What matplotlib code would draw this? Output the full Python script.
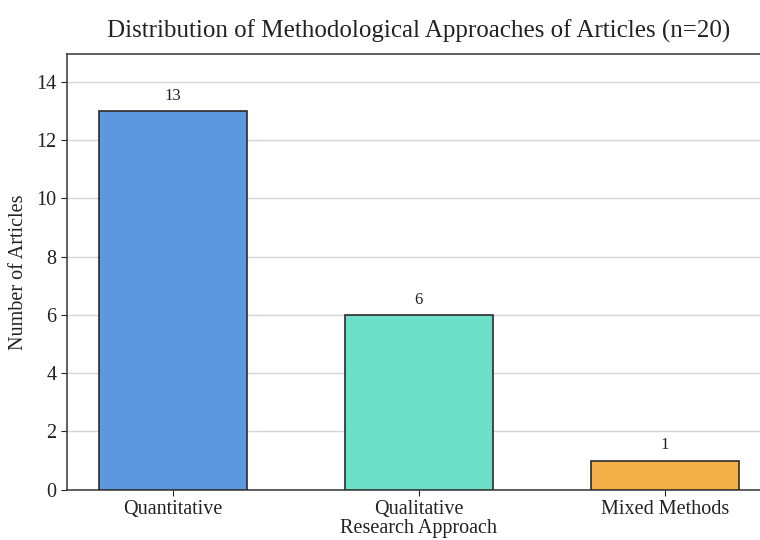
import matplotlib
matplotlib.use("Agg")
import matplotlib.pyplot as plt

# article counts per methodological approach
approaches = ["Quantitative", "Qualitative", "Mixed Methods"]
counts = [13, 6, 1]
colors = ["#5B98E0", "#6EE0C8", "#F3AF48"]

plt.rcParams['font.family'] = ['Liberation Serif', 'DejaVu Serif']

fig = plt.figure(figsize=(7.6, 5.4), dpi=100)
# axes run slightly past the right edge of the canvas
ax = fig.add_axes([0.088, 0.093, 0.926, 0.807])

bars = ax.bar(approaches, counts, width=0.6, color=colors,
              edgecolor="#2b2b2b", linewidth=1.2, zorder=3)

for b, v in zip(bars, counts):
    ax.text(b.get_x() + b.get_width() / 2, v + 0.25, str(v),
            ha="center", va="bottom", fontsize=12, color="#222222")

ax.set_ylim(0, max(counts) * 1.15)
ax.set_xlim(-0.43, 2.43)
ax.set_yticks(range(0, 15, 2))
ax.grid(axis="y", color="#d6d6d6", linewidth=1.0, zorder=0)
ax.set_axisbelow(True)

for s in ax.spines.values():
    s.set_color("#444444")
    s.set_linewidth(1.2)

ax.tick_params(axis="both", labelsize=14.5, colors="#222222", length=4)
ax.set_ylabel("Number of Articles", fontsize=14.5, color="#222222", labelpad=6)
ax.set_xlabel("Research Approach", fontsize=14.5, color="#222222", labelpad=0)
ax.set_title("Distribution of Methodological Approaches of Articles (n=20)",
             fontsize=18, color="#222222", pad=12)

fig.savefig("out.png", dpi=100)
